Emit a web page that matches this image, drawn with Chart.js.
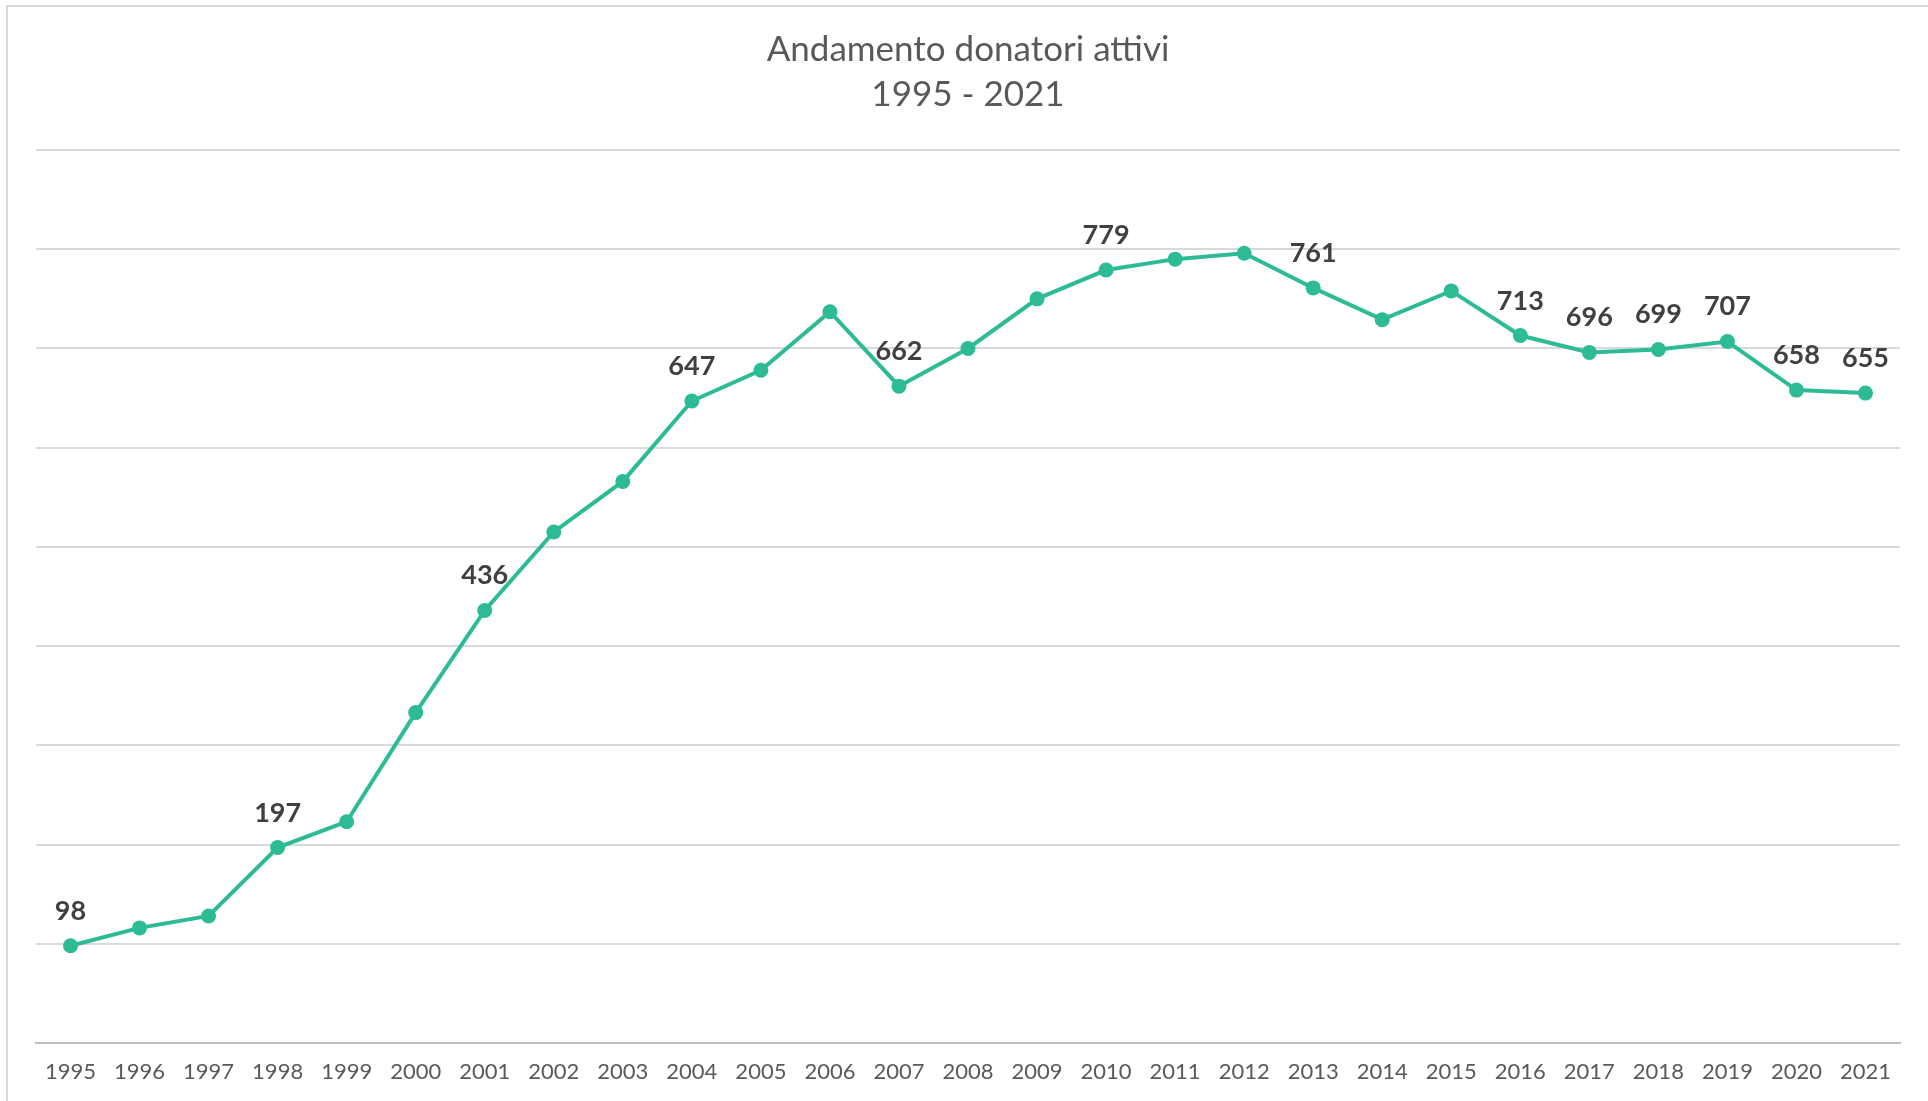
<!DOCTYPE html>
<html>
<head>
<meta charset="utf-8">
<script src="https://cdn.jsdelivr.net/npm/chart.js@4.4.0/dist/chart.umd.min.js"></script>
<style>
  body { margin: 0; background: #fff; }
  canvas { display: block; }
</style>
</head>
<body>
<canvas id="myChart" width="1928" height="1101"></canvas>
<script>
// years on the x axis
const years = ['1995', '1996', '1997', '1998', '1999', '2000', '2001', '2002', '2003',
    '2004', '2005', '2006', '2007', '2008', '2009', '2010', '2011', '2012', '2013',
    '2014', '2015', '2016', '2017', '2018', '2019', '2020', '2021'];

// active donors per year (unlabelled ones)
const donors = [98, 116, 128, 197, 223, 333, 436, 515, 566, 647, 678, 737, 662, 700,
    750, 779, 790, 796, 761, 729, 758, 713, 696, 699, 707, 658, 655];

// which values get a label printed above the point
const shownLabels = [98, null, null, 197, null, null, 436, null, null, 647, null, null,
    662, null, null, 779, null, null, 761, null, null, 713, 696, 699, 707, 658, 655];

const yMin = 0;
const yMax = 900;
const yStep = 100;

const green = '#2dbb96';

const framePlugin = {
    id: 'frame',
    beforeDraw(chart) {
        const c = chart.ctx;
        c.save();
        c.strokeStyle = '#d9d9d9';
        c.lineWidth = 2;
        c.beginPath();
        c.moveTo(7, chart.height);
        c.lineTo(7, 6);
        c.lineTo(chart.width, 6);
        c.stroke();
        c.restore();
    }
};

const labelPlugin = {
    id: 'pointLabels',
    afterDatasetsDraw(chart) {
        const c = chart.ctx;
        const meta = chart.getDatasetMeta(0);
        c.save();
        c.font = 'bold 27px Lato';
        c.fillStyle = '#404040';
        c.textAlign = 'center';
        c.textBaseline = 'alphabetic';
        meta.data.forEach((pt, i) => {
            if (shownLabels[i] === null) return;
            c.fillText(String(shownLabels[i]), pt.x, pt.y - 26);
        });
        c.restore();
    }
};

Chart.defaults.font.family = 'Lato';

const ctx = document.getElementById('myChart').getContext('2d');
const myChart = new Chart(ctx, {
    type: 'line',
    data: {
        labels: years,
        datasets: [{
            label: 'Donatori attivi',
            data: donors,
            borderColor: green,
            backgroundColor: green,
            borderWidth: 4,
            pointRadius: 7.5,
            pointBorderWidth: 0,
            pointBackgroundColor: green,
            tension: 0,
            clip: false
        }]
    },
    options: {
        responsive: false,
        animation: false,
        devicePixelRatio: 1,
        layout: {
            padding: { left: 36, right: 28, top: 0, bottom: 0 }
        },
        plugins: {
            legend: { display: false },
            tooltip: { enabled: false },
            title: {
                display: true,
                text: ['Andamento donatori attivi', '1995 - 2021'],
                color: '#595959',
                font: { size: 35, weight: 'normal', lineHeight: 45 / 35 },
                padding: { top: 27.5, bottom: 32.5 }
            }
        },
        scales: {
            x: {
                offset: true,
                grid: { display: false, drawTicks: false, offset: true },
                border: { display: true, color: '#bfbfbf', width: 2 },
                ticks: {
                    color: '#595959',
                    font: { size: 22, lineHeight: 1 },
                    padding: 18,
                    maxRotation: 0,
                    autoSkip: false
                }
            },
            y: {
                min: yMin,
                max: yMax,
                grid: { color: '#d9d9d9', lineWidth: 2, drawTicks: false },
                border: { display: false },
                ticks: { display: false, stepSize: yStep },
                afterFit(scale) { scale.width = 0; }
            }
        }
    },
    plugins: [framePlugin, labelPlugin]
});
</script>
</body>
</html>
